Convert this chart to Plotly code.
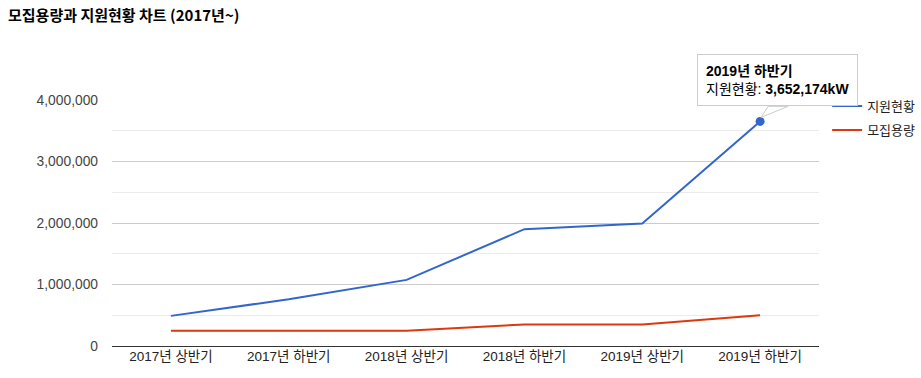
import plotly.graph_objects as go

categories = ["2017년 상반기", "2017년 하반기", "2018년 상반기", "2018년 하반기", "2019년 상반기", "2019년 하반기"]
support = [490000, 760000, 1075000, 1900000, 1990000, 3652174]
capacity = [250000, 250000, 250000, 350000, 350000, 500000]
y_ticks = [0, 1000000, 2000000, 3000000, 4000000]
y_tick_labels = ["0", "1,000,000", "2,000,000", "3,000,000", "4,000,000"]

FONT = "Arial, 'Liberation Sans', 'Noto Sans CJK KR', sans-serif"
BLUE = "#3366cc"
RED = "#dc3912"

fig = go.Figure()
fig.add_trace(go.Scatter(x=categories, y=support, name="지원현황", mode="lines",
                         legendgroup="a", line=dict(color=BLUE, width=2)))
fig.add_trace(go.Scatter(x=categories, y=capacity, name="모집용량", mode="lines",
                         legendgroup="b", line=dict(color=RED, width=2)))
# highlighted point
fig.add_trace(go.Scatter(x=[categories[-1]], y=[support[-1]], mode="markers",
                         marker=dict(color=BLUE, size=9), showlegend=False, hoverinfo="skip"))

# tooltip pointer (pixel offsets relative to the highlighted point)
fig.add_shape(type="path", xref="x", yref="y", xsizemode="pixel", ysizemode="pixel",
              xanchor=len(categories) - 1, yanchor=support[-1],
              path="M 8,15 L 1,4 L 28,15 Z",
              fillcolor="white", line=dict(color="#cccccc", width=1), layer="above")

fig.add_annotation(x=categories[-1], y=support[-1], xref="x", yref="y",
                   text=f"<b>{categories[-1]}</b><br>지원현황: <b>{support[-1]:,}kW</b>",
                   showarrow=False, xanchor="left", yanchor="bottom", align="left",
                   xshift=-63, yshift=15,
                   bgcolor="white", bordercolor="#cccccc", borderwidth=1, borderpad=8,
                   font=dict(family=FONT, size=14, color="#000000"))

fig.update_layout(
    width=921, height=378,
    margin=dict(l=112, r=102, t=100, b=32, autoexpand=False),
    paper_bgcolor="white", plot_bgcolor="white",
    font=dict(family=FONT, size=13, color="#222222"),
    title=dict(text="<b>모집용량과 지원현황 차트 (2017년~)</b>", x=8 / 921, xref="container",
               xanchor="left", y=1 - 16 / 378, yanchor="middle",
               font=dict(family="'Noto Sans CJK KR', sans-serif", size=15, color="#000000")),
    showlegend=True,
    legend=dict(x=1.0115, y=1.036, xanchor="left", yanchor="top", traceorder="grouped",
                font=dict(family=FONT, size=13, color="#222222"),
                bgcolor="rgba(0,0,0,0)", itemwidth=30, tracegroupgap=4),
    hovermode=False,
)
fig.update_xaxes(type="category", range=[-0.5, len(categories) - 0.5], showgrid=False,
                 showline=False, ticks="", automargin=False,
                 tickfont=dict(family=FONT, size=13.5, color="#222222"),
                 fixedrange=True)
fig.update_yaxes(range=[0, 4000000], tickvals=y_ticks, ticktext=y_tick_labels,
                 showgrid=True, gridcolor="#cccccc", gridwidth=1,
                 minor=dict(dtick=500000, showgrid=True, gridcolor="#ebebeb", gridwidth=1),
                 zeroline=True, zerolinecolor="#333333", zerolinewidth=1,
                 ticks="", ticklabelstandoff=13, automargin=False,
                 tickfont=dict(family=FONT, size=13.8, color="#444444"), fixedrange=True)

fig.write_html("out.html", config={"displayModeBar": False},
               post_script="document.body.style.margin='0';")
